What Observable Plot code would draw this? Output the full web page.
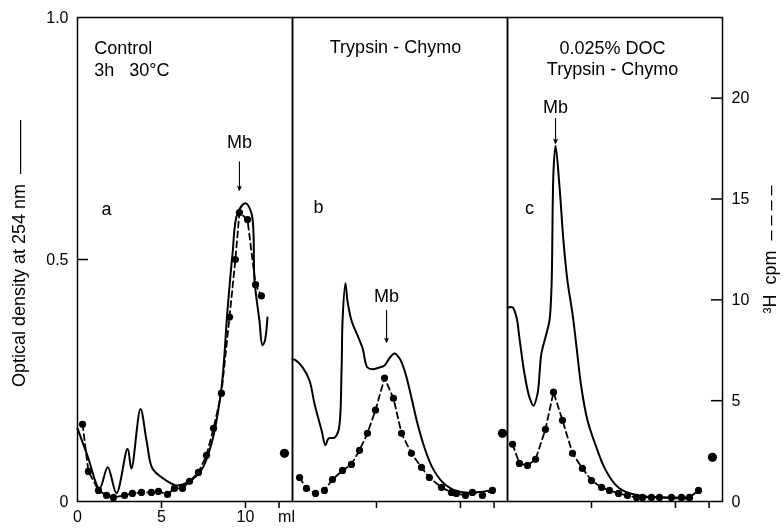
<!DOCTYPE html>
<html>
<head>
<meta charset="utf-8">
<script src="https://cdn.jsdelivr.net/npm/d3@7"></script>
<script src="https://cdn.jsdelivr.net/npm/@observablehq/plot@0.6"></script>
<style>
  html, body { margin: 0; padding: 0; background: #fff; }
  #wrap { position: relative; width: 784px; height: 529px; }
  #wrap svg { position: absolute; left: 0; top: 0; will-change: transform; }
</style>
</head>
<body>
<div id="wrap"></div>
<script>
// ---------- data ----------
const panels = ["a", "b", "c"];

// Panel a: Control, 3h 30°C — optical density at 254 nm (solid)
const aLineMl = [0.0, 0.6, 1.31, 1.8, 2.32, 2.98, 3.21, 3.75, 4.11, 4.46, 5.0, 5.6, 5.95, 6.79, 7.38, 7.98, 8.57, 8.93, 9.23, 9.52, 10.0, 10.36, 10.54, 10.83, 11.01, 11.13, 11.31];
const aLineOD = [0.151, 0.094, 0.027, 0.071, 0.017, 0.109, 0.068, 0.191, 0.126, 0.068, 0.05, 0.037, 0.033, 0.044, 0.065, 0.12, 0.235, 0.395, 0.512, 0.595, 0.616, 0.595, 0.456, 0.374, 0.323, 0.329, 0.38];
// Panel a: 3H cpm (dashed, dots)
const aDotMl  = [0.30, 0.65, 1.25, 1.73, 2.14, 2.80, 3.27, 3.81, 4.40, 4.82, 5.36, 5.77, 6.25, 6.67, 7.20, 7.68, 8.10, 8.57, 9.05, 9.40, 9.64, 10.12, 10.60, 10.95];
const aDotCpm = [3.83, 1.49, 0.55, 0.30, 0.20, 0.30, 0.40, 0.45, 0.45, 0.50, 0.35, 0.65, 0.65, 1.0, 1.44, 2.29, 3.63, 5.37, 9.15, 12.0, 14.33, 13.98, 10.75, 10.2];

// Panel b: Trypsin - Chymo
const bLineMl = [0.0, 0.12, 0.6, 1.01, 1.31, 1.73, 1.96, 2.14, 2.5, 2.74, 2.92, 2.98, 3.15, 3.27, 3.51, 3.87, 4.17, 4.46, 4.76, 5.18, 5.48, 5.77, 6.07, 6.37, 6.67, 7.08, 7.44, 7.86, 8.33, 8.93, 9.52, 10.12, 10.95, 11.73, 12.02];
const bLineOD = [0.294, 0.293, 0.277, 0.25, 0.202, 0.147, 0.116, 0.13, 0.132, 0.147, 0.271, 0.374, 0.451, 0.415, 0.374, 0.343, 0.317, 0.277, 0.273, 0.277, 0.281, 0.296, 0.306, 0.296, 0.271, 0.215, 0.161, 0.111, 0.07, 0.04, 0.025, 0.019, 0.019, 0.023, 0.027];
const bDotMl  = [0.42, 0.83, 1.37, 1.90, 2.38, 2.98, 3.51, 3.99, 4.46, 4.94, 5.48, 6.01, 6.49, 7.08, 7.68, 8.15, 8.87, 9.46, 9.76, 10.3, 10.71, 11.31, 11.9];
const bDotCpm = [1.19, 0.65, 0.40, 0.55, 1.09, 1.54, 1.84, 2.54, 3.38, 4.53, 6.12, 5.12, 3.38, 2.39, 1.69, 1.19, 0.70, 0.45, 0.40, 0.30, 0.45, 0.30, 0.55];

// Panel c: 0.025% DOC, Trypsin - Chymo
const cLineMl = [0.06, 0.3, 0.54, 0.71, 1.01, 1.31, 1.55, 1.79, 2.02, 2.32, 2.5, 2.62, 2.74, 2.86, 3.1, 3.33, 3.57, 3.87, 4.11, 4.4, 4.76, 5.3, 5.77, 6.37, 6.85, 7.86, 9.46, 11.0];
const cLineOD = [0.401, 0.401, 0.38, 0.338, 0.264, 0.215, 0.198, 0.223, 0.306, 0.347, 0.374, 0.443, 0.684, 0.735, 0.649, 0.539, 0.456, 0.388, 0.319, 0.235, 0.168, 0.111, 0.07, 0.037, 0.023, 0.012, 0.008, 0.006];
const cDotMl  = [0.3, 0.71, 1.19, 1.67, 2.26, 2.74, 3.27, 3.87, 4.46, 5.0, 5.6, 6.07, 6.61, 7.14, 7.68, 8.04, 8.57, 9.05, 9.76, 10.36, 10.83, 11.37];
const cDotCpm = [2.84, 1.89, 1.79, 2.09, 3.58, 5.42, 4.03, 2.39, 1.64, 1.04, 0.70, 0.55, 0.40, 0.30, 0.20, 0.20, 0.20, 0.20, 0.20, 0.20, 0.20, 0.55];

// separate (unconnected) fractions at the end of each run
const sepPanel = ["a", "b", "c"];
const sepMl    = [12.32, 12.5, 12.2];
const sepCpm   = [2.39, 3.38, 2.19];

// axes
const odTicks = [0, 0.5, 1.0];
const cpmTicks = [0, 5, 10, 15, 20];
const xTicks = [5, 10, 12];
const xTickLabels = ["0", "5", "10"];
const xTickLabelMl = [0, 5, 10];

// annotations (data units: ml, OD)
const titlePanel = ["a", "b", "c"];
const titleText  = ["Control\n3h   30°C", "Trypsin - Chymo", "0.025% DOC\nTrypsin - Chymo"];
const titleMl    = [1.0, 6.13, 6.25];
const titleOD    = [0.916, 0.94, 0.917];

const letterText = ["a", "b", "c"];
const letterMl   = [1.73, 1.55, 1.31];
const letterOD   = [0.603, 0.607, 0.605];

const mbMl       = [9.64, 5.6, 2.86];
const mbTextOD   = [0.742, 0.424, 0.814];
const mbArrowTop = [0.702, 0.395, 0.791];
const mbArrowTip = [0.643, 0.329, 0.74];

// ---------- tables ----------
const solid = [
  ...aLineMl.map((m, i) => ({panel: "a", ml: m, od: aLineOD[i]})),
  ...bLineMl.map((m, i) => ({panel: "b", ml: m, od: bLineOD[i]})),
  ...cLineMl.map((m, i) => ({panel: "c", ml: m, od: cLineOD[i]}))
];
const dots = [
  ...aDotMl.map((m, i) => ({panel: "a", ml: m, cpm: aDotCpm[i]})),
  ...bDotMl.map((m, i) => ({panel: "b", ml: m, cpm: bDotCpm[i]})),
  ...cDotMl.map((m, i) => ({panel: "c", ml: m, cpm: cDotCpm[i]}))
];
const sep = sepPanel.map((p, i) => ({panel: p, ml: sepMl[i], cpm: sepCpm[i]}));
const titles = titlePanel.map((p, i) => ({panel: p, text: titleText[i], ml: titleMl[i], od: titleOD[i]}));
const letters = panels.map((p, i) => ({panel: p, text: letterText[i], ml: letterMl[i], od: letterOD[i]}));
const mb = panels.map((p, i) => ({panel: p, ml: mbMl[i], t: mbTextOD[i], y1: mbArrowTop[i], y2: mbArrowTip[i]}));
const xLabs = xTickLabels.map((t, i) => ({panel: "a", ml: xTickLabelMl[i], text: t}));

const font = "'Liberation Sans', Arial, Helvetica, sans-serif";
const W = 784, H = 529;
const common = {
  width: W, height: H,
  marginLeft: 77, marginRight: 62, marginTop: 17, marginBottom: 28,
  fx: {domain: panels, padding: 0, axis: null},
  x: {domain: [0, 12.8], axis: null}
};

// ---------- plot 1: optical density (left axis) ----------
const p1 = Plot.plot({
  ...common,
  style: {fontFamily: font, fontSize: "16px", color: "black", background: "white", overflow: "visible"},
  y: {domain: [0, 1]},
  marks: [
    Plot.frame({stroke: "black", strokeWidth: 1.5}),
    Plot.axisY({ticks: odTicks, anchor: "left", tickSize: 0, tickPadding: 9, fontSize: 16,
      tickFormat: d => d === 0 ? "0" : d.toFixed(1), label: null}),
    Plot.tickY(odTicks.filter(d => d > 0 && d < 1), {y: d => d, fx: () => "a", insetRight: 204, stroke: "black", strokeWidth: 1.5}),
    Plot.axisX({ticks: xTicks, tickSize: 7, tickFormat: () => "", strokeWidth: 1.5, label: null}),
    Plot.text(xLabs, {fx: "panel", x: "ml", text: "text", frameAnchor: "bottom", dy: 20, fontSize: 16}),
    Plot.text(["ml"], {fx: () => "a", x: () => 12, text: d => d, frameAnchor: "bottom", dy: 20, dx: -1, textAnchor: "start", fontSize: 16}),
    Plot.line(solid, {fx: "panel", x: "ml", y: "od", curve: "catmull-rom", stroke: "black", strokeWidth: 2}),
    Plot.text(titles.filter(d => d.panel === "a"), {fx: "panel", x: "ml", y: "od", text: "text", textAnchor: "start", fontSize: 18, lineHeight: 1.18}),
    Plot.text(titles.filter(d => d.panel !== "a"), {fx: "panel", x: "ml", y: "od", text: "text", textAnchor: "middle", fontSize: 18, lineHeight: 1.18}),
    Plot.text(letters, {fx: "panel", x: "ml", y: "od", text: "text", fontSize: 18}),
    Plot.text(mb, {fx: "panel", x: "ml", y: "t", text: () => "Mb", fontSize: 18}),
    Plot.arrow(mb, {fx: "panel", x1: "ml", x2: "ml", y1: "y1", y2: "y2", stroke: "black", strokeWidth: 1.1, headLength: 6, headAngle: 45}),
    Plot.text([0], {fx: () => "a", frameAnchor: "left", dx: -58, dy: -6, rotate: -90, textAnchor: "middle",
      text: () => "Optical density at 254 nm  ———", fontSize: 18})
  ]
});

// ---------- plot 2: 3H cpm (right axis) ----------
const p2 = Plot.plot({
  ...common,
  style: {fontFamily: font, fontSize: "16px", color: "black", background: "transparent", overflow: "visible"},
  y: {domain: [0, 24]},
  marks: [
    Plot.axisY({ticks: cpmTicks, anchor: "right", tickSize: 0, tickPadding: 9, fontSize: 16, label: null}),
    Plot.tickY(cpmTicks.filter(d => d > 0), {y: d => d, fx: () => "c", insetLeft: 204, stroke: "black", strokeWidth: 1.5}),
    Plot.line(dots, {fx: "panel", x: "ml", y: "cpm", stroke: "black", strokeWidth: 1.8, strokeDasharray: "6,4"}),
    Plot.dot(dots, {fx: "panel", x: "ml", y: "cpm", r: 3.6, fill: "black"}),
    Plot.dot(sep, {fx: "panel", x: "ml", y: "cpm", r: 4.6, fill: "black"}),
    Plot.text([0], {fx: () => "c", frameAnchor: "right", dx: 48, dy: -10, rotate: -90, textAnchor: "middle",
      text: () => "³H  cpm  – – – –", fontSize: 18})
  ]
});

const wrap = document.getElementById("wrap");
wrap.appendChild(p1);
wrap.appendChild(p2);
</script>
</body>
</html>
